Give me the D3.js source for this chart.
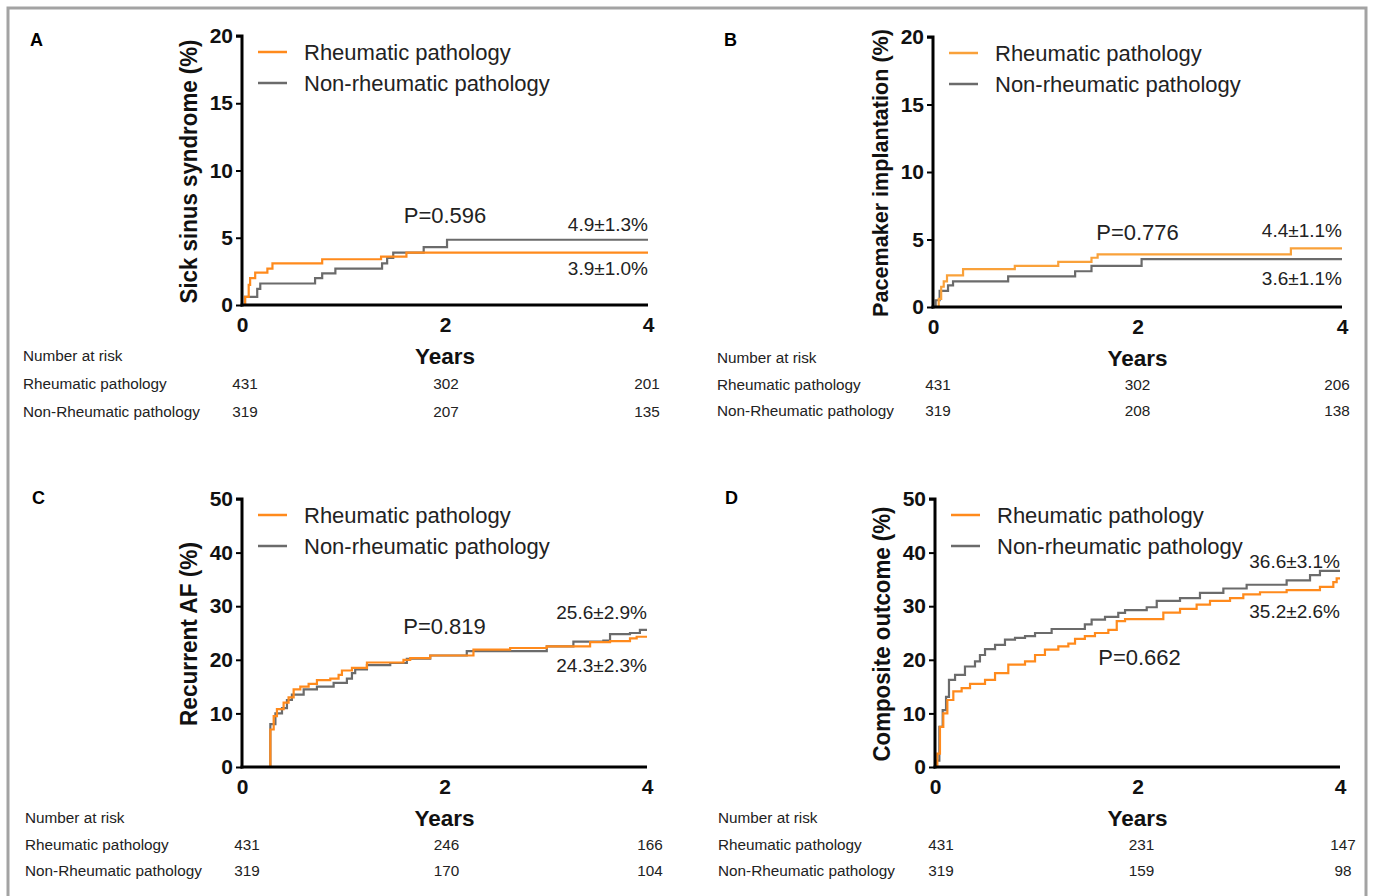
<!DOCTYPE html>
<html>
<head>
<meta charset="utf-8">
<script src="https://cdn.jsdelivr.net/npm/d3@7"></script>
<style>
  body { margin: 0; background: #fff; }
  svg text { font-family: "Liberation Sans", Arial, sans-serif; }
</style>
</head>
<body>
<div id="chart"></div>
<script>
// Kaplan-Meier style cumulative incidence, [year, percent] step points
const sssRheum = [[0,0],[0.03,0.6],[0.066,1.5],[0.08,2.0],[0.13,2.4],[0.25,2.7],[0.30,3.1],[0.79,3.4],[1.37,3.6],[1.62,3.9],[4,3.9]];
const sssNon = [[0,0],[0.03,0.6],[0.15,1.2],[0.18,1.6],[0.72,2.0],[0.79,2.35],[0.92,2.7],[1.38,3.1],[1.43,3.5],[1.49,3.9],[1.79,4.3],[2.02,4.85],[4,4.85]];

const pmRheum = [[0,0],[0.056,0.6],[0.08,1.5],[0.105,1.9],[0.137,2.35],[0.294,2.8],[0.80,3.05],[1.225,3.35],[1.55,3.65],[1.61,3.9],[3.5,4.35],[4,4.35]];
const pmNon = [[0,0],[0.026,0.5],[0.065,1.2],[0.147,1.6],[0.196,1.9],[0.735,2.27],[1.39,2.65],[1.55,3.05],[2.04,3.55],[4,3.55]];

const afRheum = [[0,0],[0.247,0],[0.28,7],[0.313,9.5],[0.345,10.8],[0.411,12],[0.46,13],[0.51,14.5],[0.576,15],[0.658,15.5],[0.74,16.2],[0.872,16.5],[0.954,17.2],[0.987,18],[1.086,18.5],[1.234,19.5],[1.595,20],[1.661,20.3],[1.859,20.8],[2.286,21.9],[2.648,22.2],[3.01,22.5],[3.438,23.3],[3.635,23.5],[3.832,24],[3.898,24.3],[4,24.3]];
const afNon = [[0,0],[0.247,0],[0.28,8],[0.33,10],[0.395,11],[0.444,12.5],[0.493,13.5],[0.609,14.5],[0.74,15],[0.905,15.7],[1.036,16.5],[1.086,17.5],[1.118,18.2],[1.234,19],[1.464,19.4],[1.628,20.2],[1.859,20.8],[2.22,21.6],[3.01,22.5],[3.273,23.4],[3.569,23.6],[3.635,24.8],[3.832,25.0],[3.93,25.6],[4,25.6]];

const coRheum = [[0,0],[0.023,2.5],[0.049,7.5],[0.082,10],[0.122,12.5],[0.181,14.1],[0.263,14.7],[0.346,15.5],[0.494,16.25],[0.593,17.5],[0.724,19.1],[0.889,19.7],[0.988,20.9],[1.086,21.9],[1.218,22.5],[1.317,23],[1.383,23.9],[1.48,24.4],[1.58,25],[1.712,25.6],[1.795,27.2],[1.877,27.6],[2.255,28.8],[2.42,29.5],[2.584,30.3],[2.716,31],[2.914,31.5],[3.045,32.2],[3.21,32.6],[3.473,33],[3.802,33.6],[3.934,34.5],[3.967,35.2],[4,35.2]];
const coNon = [[0,0],[0.016,1.2],[0.043,7.5],[0.076,10.6],[0.109,13.1],[0.138,16.25],[0.198,17.2],[0.296,18.75],[0.395,19.7],[0.444,20.9],[0.494,22],[0.593,22.8],[0.691,23.75],[0.79,24.1],[0.889,24.4],[0.988,25],[1.152,25.75],[1.48,26.6],[1.547,27.5],[1.679,28],[1.81,28.75],[1.877,29.25],[2.091,29.8],[2.19,31],[2.42,31.5],[2.617,32.5],[2.848,33.3],[3.078,34],[3.473,34.8],[3.704,35.8],[3.802,36.6],[4,36.6]];

const seriesNames = ["Rheumatic pathology", "Non-rheumatic pathology"];
const riskRowNames = ["Rheumatic pathology", "Non-Rheumatic pathology"];
const xTicks = [0, 2, 4];

const riskA = [[431, 302, 201], [319, 207, 135]];
const riskB = [[431, 302, 206], [319, 208, 138]];
const riskC = [[431, 246, 166], [319, 170, 104]];
const riskD = [[431, 231, 147], [319, 159, 98]];

const panels = [
  { letter: "A", title: "Sick sinus syndrome (%)", titleLen: 264, titleSize: 24, ymax: 20, ystep: 5, rheum: sssRheum, non: sssNon, risk: riskA,
    pText: "P=0.596", pAt: [2.0, 6.7], hiText: "4.9\u00b11.3%", hiAt: 6.0, loText: "3.9\u00b11.0%", loAt: 2.75,
    x0: 242, x1: 648, y0: 305, y1: 36, lx: 23, letterY: 40, riskY: [356, 384, 412], riskDx: [3, 1, -1], orange: "#ff8a1c" },
  { letter: "B", title: "Pacemaker implantation (%)", titleLen: 288, titleSize: 22, ymax: 20, ystep: 5, rheum: pmRheum, non: pmNon, risk: riskB,
    pText: "P=0.776", pAt: [2.0, 5.5], hiText: "4.4\u00b11.1%", hiAt: 5.7, loText: "3.6\u00b11.1%", loAt: 2.15,
    x0: 933, x1: 1342, y0: 307, y1: 37, lx: 717, letterY: 40, riskY: [358, 385, 411], riskDx: [5, 0, -5], orange: "#f9a13a" },
  { letter: "C", title: "Recurrent AF (%)", titleLen: 184, titleSize: 24, ymax: 50, ystep: 10, rheum: afRheum, non: afNon, risk: riskC,
    pText: "P=0.819", pAt: [2.0, 26.2], hiText: "25.6\u00b12.9%", hiAt: 28.8, loText: "24.3\u00b12.3%", loAt: 18.9,
    x0: 242, x1: 647, y0: 767, y1: 499, lx: 25, letterY: 498, riskY: [818, 845, 871], riskDx: [5, 2, 3], orange: "#ff8a1c" },
  { letter: "D", title: "Composite outcome (%)", titleLen: 255, titleSize: 24, ymax: 50, ystep: 10, rheum: coRheum, non: coNon, risk: riskD,
    pText: "P=0.662", pAt: [2.02, 20.5], hiText: "36.6\u00b13.1%", hiAt: 38.3, loText: "35.2\u00b12.6%", loAt: 29.0,
    x0: 935, x1: 1340, y0: 767, y1: 499, lx: 718, letterY: 498, riskY: [818, 845, 871], riskDx: [6, 4, 3], orange: "#ff8a1c" }
];

const grayColor = "#6b6b6b";

const svg = d3.select("#chart").append("svg")
  .attr("width", 1377)
  .attr("height", 896);

// outer frame (open at bottom)
svg.append("path")
  .attr("d", "M8,896 L8,8 L1366,8 L1366,896")
  .attr("fill", "none")
  .attr("stroke", "#a3a3a3")
  .attr("stroke-width", 3);

panels.forEach(p => {
  const x = d3.scaleLinear().domain([0, 4]).range([p.x0, p.x1]);
  const y = d3.scaleLinear().domain([0, p.ymax]).range([p.y0, p.y1]);
  const g = svg.append("g");

  // panel letter
  g.append("text")
    .attr("x", p.lx + 7)
    .attr("y", p.letterY)
    .attr("dy", "0.35em")
    .attr("font-size", 18)
    .attr("font-weight", "bold")
    .text(p.letter);

  // curves
  const line = d3.line()
    .x(d => x(d[0]))
    .y(d => y(d[1]))
    .curve(d3.curveStepAfter);

  g.append("path").datum(p.non)
    .attr("d", line).attr("fill", "none")
    .attr("stroke", grayColor).attr("stroke-width", 2.2);
  g.append("path").datum(p.rheum)
    .attr("d", line).attr("fill", "none")
    .attr("stroke", p.orange).attr("stroke-width", 2.2);

  // axes
  const yAxis = g.append("g")
    .attr("transform", `translate(${p.x0},0)`)
    .call(d3.axisLeft(y).tickValues(d3.range(0, p.ymax + 1, p.ystep)).tickSize(6).tickPadding(3));
  const xAxis = g.append("g")
    .attr("transform", `translate(0,${p.y0})`)
    .call(d3.axisBottom(x).tickValues(xTicks).tickFormat(d3.format("d")).tickSize(0).tickPadding(12));

  [xAxis, yAxis].forEach(ax => {
    ax.select(".domain").attr("stroke", "#000").attr("stroke-width", 3);
    ax.selectAll(".tick line").attr("stroke", "#000").attr("stroke-width", 2);
    ax.selectAll(".tick text")
      .attr("font-size", 21)
      .attr("font-weight", "bold")
      .attr("fill", "#111")
      .attr("font-family", "Liberation Sans, Arial, sans-serif");
  });
  yAxis.select(".domain").attr("d", `M-6,${p.y1}H0V${p.y0 + 1.5}`);
  xAxis.select(".domain").attr("d", `M${p.x0 - 1.5},0H${p.x1}`);

  // axis titles (condensed, as in the original figure)
  g.append("text")
    .attr("transform", `translate(${p.x0 - 53},${(p.y0 + p.y1) / 2 + 1}) rotate(-90)`)
    .attr("text-anchor", "middle")
    .attr("dy", "0.35em")
    .attr("font-size", p.titleSize)
    .attr("font-weight", "bold")
    .attr("fill", "#111")
    .attr("textLength", p.titleLen)
    .attr("lengthAdjust", "spacingAndGlyphs")
    .text(p.title);

  g.append("text")
    .attr("x", x(2))
    .attr("y", p.riskY[0])
    .attr("dy", "0.35em")
    .attr("text-anchor", "middle")
    .attr("font-size", 22.5)
    .attr("font-weight", "bold")
    .attr("fill", "#111")
    .text("Years");

  // legend
  const leg = g.append("g");
  [p.orange, grayColor].forEach((c, i) => {
    const ly = p.y1 + 16 + i * 31;
    leg.append("line")
      .attr("x1", p.x0 + 16).attr("x2", p.x0 + 45)
      .attr("y1", ly).attr("y2", ly)
      .attr("stroke", c).attr("stroke-width", 2.5);
    leg.append("text")
      .attr("x", p.x0 + 62).attr("y", ly)
      .attr("dy", "0.35em")
      .attr("font-size", 22)
      .attr("fill", "#222")
      .text(seriesNames[i]);
  });

  // annotations
  g.append("text")
    .attr("x", x(p.pAt[0])).attr("y", y(p.pAt[1]))
    .attr("dy", "0.35em").attr("text-anchor", "middle")
    .attr("font-size", 22).attr("fill", "#222")
    .text(p.pText);
  g.append("text")
    .attr("x", p.x1).attr("y", y(p.hiAt))
    .attr("dy", "0.35em").attr("text-anchor", "end")
    .attr("font-size", 19).attr("fill", "#222")
    .text(p.hiText);
  g.append("text")
    .attr("x", p.x1).attr("y", y(p.loAt))
    .attr("dy", "0.35em").attr("text-anchor", "end")
    .attr("font-size", 19).attr("fill", "#222")
    .text(p.loText);

  // number at risk table
  g.append("text")
    .attr("x", p.lx).attr("y", p.riskY[0])
    .attr("dy", "0.35em").attr("font-size", 15.3).attr("fill", "#222")
    .text("Number at risk");
  riskRowNames.forEach((name, i) => {
    g.append("text")
      .attr("x", p.lx).attr("y", p.riskY[i + 1])
      .attr("dy", "0.35em").attr("font-size", 15.3).attr("fill", "#222")
      .text(name);
    p.risk[i].forEach((v, j) => {
      g.append("text")
        .attr("x", x(xTicks[j]) + p.riskDx[j]).attr("y", p.riskY[i + 1])
        .attr("dy", "0.35em").attr("text-anchor", "middle")
        .attr("font-size", 15.3).attr("fill", "#222")
        .text(v);
    });
  });
});
</script>
</body>
</html>
